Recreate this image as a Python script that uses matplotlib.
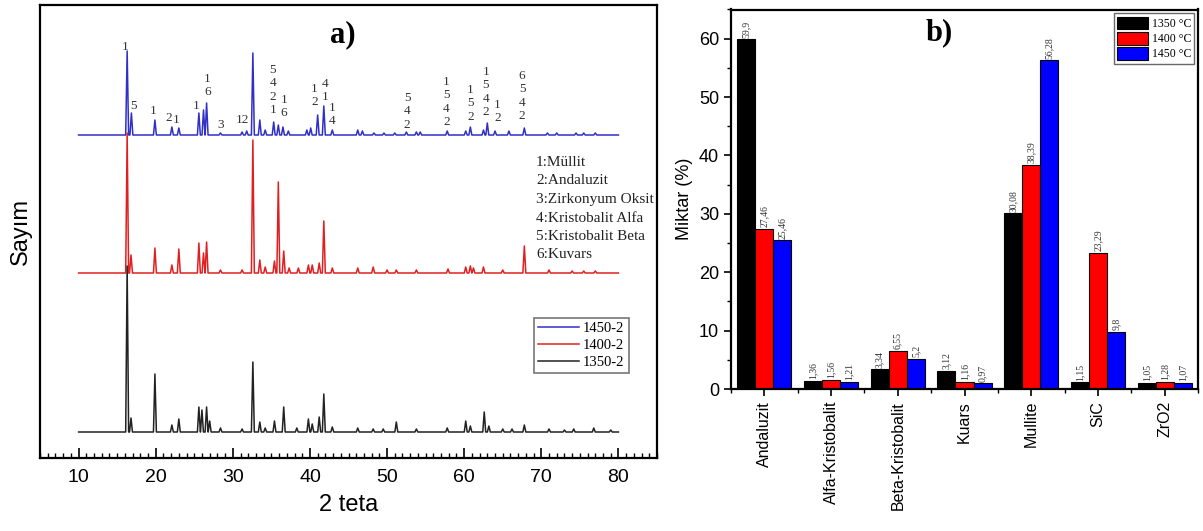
import numpy as np
import matplotlib
matplotlib.use("Agg")
import matplotlib.pyplot as plt
from matplotlib.ticker import MultipleLocator, FixedLocator

# ---------------- Panel a data (XRD) ----------------
blue_pos = [16.3, 16.85, 19.9, 22.1, 23.0, 25.6, 26.2, 26.6, 28.4, 31.2, 31.8, 32.6, 33.5, 34.2,
            35.3, 35.9, 36.5, 37.2, 39.6, 40.1, 41.0, 41.8, 42.9, 46.2, 46.8, 48.3, 49.6, 51.0, 52.5,
            53.8, 54.3, 57.8, 60.2, 60.8, 62.5, 63.0, 64.0, 65.8, 67.8, 70.8, 72.0, 74.5, 75.5, 77.0]
blue_int = [84, 22, 15, 8, 7, 22, 25, 32, 2, 3, 4, 82, 15, 5,
            13, 10, 8, 4, 5, 7, 20, 29, 5, 5, 4, 2, 2, 2, 3,
            3, 3, 4, 4, 8, 5, 12, 4, 4, 7, 2, 2, 2, 2, 2]

red_pos = [16.3, 16.8, 19.9, 22.1, 23.0, 25.6, 26.2, 26.6, 28.4, 31.2, 32.6, 33.5, 34.2, 35.4,
           35.9, 36.6, 37.3, 38.5, 39.8, 40.3, 41.2, 41.8, 42.9, 46.2, 48.2, 50.0, 51.2, 53.8,
           57.9, 60.2, 60.8, 61.2, 62.5, 65.0, 67.8, 71.0, 74.0, 75.5, 77.0]
red_int = [140, 18, 25, 8, 24, 30, 20, 31, 3, 3, 133, 13, 6, 12,
           91, 22, 5, 5, 8, 8, 10, 52, 5, 5, 6, 3, 3, 3,
           4, 6, 7, 5, 6, 3, 27, 3, 2, 2, 2]

black_pos = [16.3, 16.8, 19.9, 22.1, 23.0, 25.6, 26.0, 26.6, 27.0, 28.4, 31.2, 32.6, 33.5, 34.2,
             35.4, 36.6, 38.3, 39.8, 40.3, 41.2, 41.8, 42.9, 46.2, 48.2, 49.5, 51.2, 53.8, 57.8,
             60.2, 60.8, 62.6, 63.2, 65.0, 66.2, 67.8, 71.0, 73.0, 74.2, 76.8, 79.0]
black_int = [166, 14, 58, 7, 13, 25, 22, 25, 11, 4, 3, 70, 10, 4,
             11, 25, 4, 13, 8, 15, 38, 5, 4, 3, 3, 10, 3, 4,
             11, 6, 20, 6, 3, 3, 7, 3, 2, 3, 4, 2]

series_labels = ["1450-2", "1400-2", "1350-2"]
series_offsets = [323, 185, 26]

# peak annotations on 1450-2 pattern: (2theta, stacked labels, y of top label)
ann_x = [16.0, 17.1, 19.7, 21.7, 22.7, 25.2, 26.7, 28.4, 31.3, 35.2, 36.6, 40.6, 41.95, 42.9,
         52.6, 57.7, 60.8, 62.8, 64.3, 67.5]
ann_txt = ["1", "5", "1", "2", "1", "1", "1\n6", "3", "12", "5\n4\n2\n1", "1\n6", "1\n2", "4\n1",
           "1\n4", "5\n4\n2", "1\n5\n4\n2", "1\n5\n2", "1\n5\n4\n2", "1\n2", "6\n5\n4\n2"]
ann_top = [47, 106, 111, 118, 120, 106, 79, 125, 120, 70, 100, 89, 84, 108,
           98, 82, 90, 72, 105, 76]

phase_names = ["1:Müllit", "2:Andaluzit", "3:Zirkonyum Oksit", "4:Kristobalit Alfa",
               "5:Kristobalit Beta", "6:Kuvars"]

# ---------------- Panel b data (bars) ----------------
categories = ["Andaluzit", "Alfa-Kristobalit", "Beta-Kristobalit", "Kuars", "Mullite", "SiC", "ZrO2"]
v1350 = [59.9, 1.36, 3.34, 3.12, 30.08, 1.15, 1.05]
v1400 = [27.46, 1.56, 6.55, 1.16, 38.39, 23.29, 1.28]
v1450 = [25.46, 1.21, 5.2, 0.97, 56.28, 9.8, 1.07]
bar_labels = ["1350 °C", "1400 °C", "1450 °C"]

# ---------------- Figure ----------------
fig = plt.figure(figsize=(12.03, 5.31), dpi=100)
SERIF = ["Liberation Serif", "DejaVu Serif"]
SANS = ["Liberation Sans", "DejaVu Sans"]

# ---- panel a ----
axa = fig.add_axes([40 / 1203, 73 / 531, 617 / 1203, 453 / 531])
colors_a = ["#3030c8", "#e02020", "#222222"]
HW = 0.19


def profile(pos, inten):
    xs = [10.0]
    ys = [0.0]
    for p, h in sorted(zip(pos, inten)):
        xs += [p - HW, p, p + HW]
        ys += [0.0, h, 0.0]
    xs.append(80.0)
    ys.append(0.0)
    return np.array(xs), np.array(ys)


handles = []
for (pos, inten), off, col, lab in zip([(blue_pos, blue_int), (red_pos, red_int), (black_pos, black_int)],
                                       series_offsets, colors_a, series_labels):
    xs, ys = profile(pos, inten)
    ln, = axa.plot(xs, ys + off, color=col, lw=1.1, label=lab)
    handles.append(ln)

axa.set_xlim(5, 85)
axa.set_ylim(0, 453)
axa.set_yticks([])
axa.xaxis.set_major_locator(MultipleLocator(10))
axa.xaxis.set_minor_locator(MultipleLocator(1))
axa.set_xticks([10, 20, 30, 40, 50, 60, 70, 80])
axa.tick_params(axis="x", which="major", direction="in", length=7, width=1.2, labelsize=14, pad=8)
axa.tick_params(axis="x", which="minor", direction="in", length=3.5, width=1.0)
for lbl in axa.get_xticklabels():
    lbl.set_family(SANS)
for s in axa.spines.values():
    s.set_linewidth(1.6)
axa.set_xlabel("2 teta", fontsize=17, family=SANS, labelpad=6)
axa.set_ylabel("Sayım", fontsize=17, family=SANS, labelpad=6)

for x, t, ytop in zip(ann_x, ann_txt, ann_top):
    axa.text(x, 458 - ytop + 6, t, ha="center", va="top", fontsize=9.5, family=SERIF,
             color="#333333", linespacing=1.15)

axa.text(0.49, 0.935, "a)", transform=axa.transAxes, ha="center", va="center",
         fontsize=22, fontweight="bold", family=SERIF)
phase_rows = [162, 181, 200, 218, 237, 255]
for name, yr in zip(phase_names, phase_rows):
    axa.text(0.804, (458 - yr) / 453, name, transform=axa.transAxes, ha="left", va="center",
             fontsize=11, family=SERIF, color="#222222")

leg_a = axa.legend(handles=handles, loc="upper left", bbox_to_anchor=(0.8, 0.31),
                   prop={"family": SERIF, "size": 10.5}, frameon=True, fancybox=False,
                   handlelength=2.8, handletextpad=0.3, borderpad=0.3, labelspacing=0.25,
                   borderaxespad=0.0)
leg_a.get_frame().set_edgecolor("#555555")
leg_a.get_frame().set_linewidth(1.2)

# ---- panel b ----
axb = fig.add_axes([731 / 1203, 142 / 531, 467 / 1203, 379.5 / 531])
x = np.arange(len(categories))
bw = 0.27
cols_b = ["#000000", "#ff0000", "#0000ff"]
for i, (vals, col, lab) in enumerate(zip([v1350, v1400, v1450], cols_b, bar_labels)):
    axb.bar(x + (i - 1) * bw, vals, width=bw, color=col, edgecolor="black", linewidth=0.8,
            label=lab)
    for xi, v in zip(x + (i - 1) * bw, vals):
        axb.text(xi, v + 0.3, f"{v:g}".replace(".", ","), rotation=90, ha="center", va="bottom",
                 fontsize=7, family=SERIF, color="#333333")

axb.set_xlim(-0.5, 6.5)
axb.set_ylim(0, 65)
axb.set_xticks(x)
axb.set_xticklabels(categories, rotation=90, fontsize=11.5, family=SANS)
axb.xaxis.set_minor_locator(FixedLocator(np.arange(-0.5, 6.6, 1.0)))
axb.yaxis.set_major_locator(MultipleLocator(10))
axb.yaxis.set_minor_locator(MultipleLocator(5))
axb.tick_params(axis="both", which="major", direction="out", length=5, width=1.2)
axb.tick_params(axis="both", which="minor", direction="out", length=3, width=1.0)
axb.tick_params(axis="y", labelsize=13)
for lbl in axb.get_yticklabels():
    lbl.set_family(SANS)
for s in axb.spines.values():
    s.set_linewidth(1.6)
axb.set_ylabel("Miktar (%)", fontsize=13, family=SANS, labelpad=4)
axb.text(0.445, 0.94, "b)", transform=axb.transAxes, ha="center", va="center",
         fontsize=22, fontweight="bold", family=SERIF)
leg_b = axb.legend(loc="upper right", prop={"family": SERIF, "size": 8.5}, frameon=True,
                   fancybox=False, handlelength=2.6, handleheight=1.3, handletextpad=0.3,
                   borderpad=0.3, labelspacing=0.15, borderaxespad=0.3)
leg_b.get_frame().set_edgecolor("#444444")
leg_b.get_frame().set_linewidth(1.0)

fig.savefig("out.png", dpi=100)
